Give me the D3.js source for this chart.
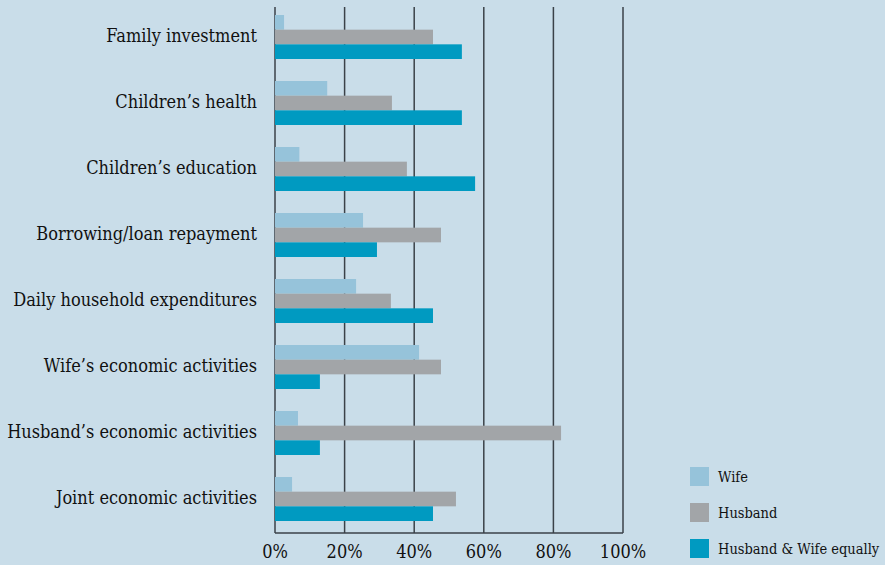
<!DOCTYPE html>
<html>
<head>
<meta charset="utf-8">
<script src="https://cdn.jsdelivr.net/npm/d3@7"></script>
<style>
  html, body { margin: 0; padding: 0; background: #c9dde9; }
  svg { display: block; }
  text { font-family: "DejaVu Serif Condensed", "DejaVu Serif", serif; fill: #111; }
</style>
</head>
<body>
<div id="chart"></div>
<script>
// categories, top to bottom
const categories = [
  "Family investment",
  "Children\u2019s health",
  "Children\u2019s education",
  "Borrowing/loan repayment",
  "Daily household expenditures",
  "Wife\u2019s economic activities",
  "Husband\u2019s economic activities",
  "Joint economic activities"
];
const seriesNames = ["Wife", "Husband", "Husband & Wife equally"];
const wifeValues    = [2.6, 15.0, 7.0, 25.3, 23.3, 41.4, 6.6, 4.9];
const husbandValues = [45.4, 33.6, 37.9, 47.7, 33.3, 47.7, 82.2, 52.0];
const equalValues   = [53.7, 53.7, 57.5, 29.3, 45.4, 12.9, 12.9, 45.4];
const tickValues = [0, 20, 40, 60, 80, 100];
const colors = ["#96c3da", "#a2a5a8", "#009ac1"];

const width = 885, height = 565;
const svg = d3.select("#chart").append("svg")
  .attr("width", width)
  .attr("height", height);

const x = d3.scaleLinear().domain([0, 100]).range([275, 623]);
const y = d3.scaleBand().domain(categories).range([4, 532])
  .paddingInner(1 / 3).paddingOuter(1 / 6);
const ySub = d3.scaleBand().domain(seriesNames).range([0, y.bandwidth()]);

const rows = categories.map((c, i) => ({
  cat: c,
  vals: [wifeValues[i], husbandValues[i], equalValues[i]]
}));

// grid lines
svg.append("g").selectAll("line")
  .data(tickValues)
  .join("line")
  .attr("x1", d => x(d)).attr("x2", d => x(d))
  .attr("y1", 7).attr("y2", 533)
  .attr("stroke", "#3a4148")
  .attr("stroke-width", 1.5);

// bars
const groups = svg.append("g").selectAll("g")
  .data(rows)
  .join("g")
  .attr("transform", d => `translate(0,${y(d.cat)})`);

groups.selectAll("rect")
  .data(d => d.vals.map((v, j) => ({ name: seriesNames[j], v, j })))
  .join("rect")
  .attr("x", x(0))
  .attr("y", d => ySub(d.name))
  .attr("width", d => x(d.v) - x(0))
  .attr("height", ySub.bandwidth())
  .attr("fill", d => colors[d.j]);

// bottom axis line
svg.append("line")
  .attr("x1", x(0)).attr("x2", x(100))
  .attr("y1", 533).attr("y2", 533)
  .attr("stroke", "#3a4148")
  .attr("stroke-width", 1.5);

// x tick labels
svg.append("g").selectAll("text")
  .data(tickValues)
  .join("text")
  .attr("x", d => x(d))
  .attr("y", 558)
  .attr("text-anchor", "middle")
  .attr("font-size", "18px")
  .text(d => d + "%");

// category labels
svg.append("g").selectAll("text")
  .data(categories)
  .join("text")
  .attr("x", 257)
  .attr("y", d => y(d) + y.bandwidth() / 2 - 1)
  .attr("dy", "0.35em")
  .attr("text-anchor", "end")
  .attr("font-size", "18px")
  .text(d => d);

// legend
const legend = svg.append("g").selectAll("g")
  .data(seriesNames)
  .join("g")
  .attr("transform", (d, i) => `translate(690,${467 + i * 36})`);

legend.append("rect")
  .attr("width", 19).attr("height", 19)
  .attr("fill", (d, i) => colors[i]);

legend.append("text")
  .attr("x", 28).attr("y", 10)
  .attr("dy", "0.35em")
  .attr("font-size", "14.5px")
  .text(d => d);
</script>
</body>
</html>
